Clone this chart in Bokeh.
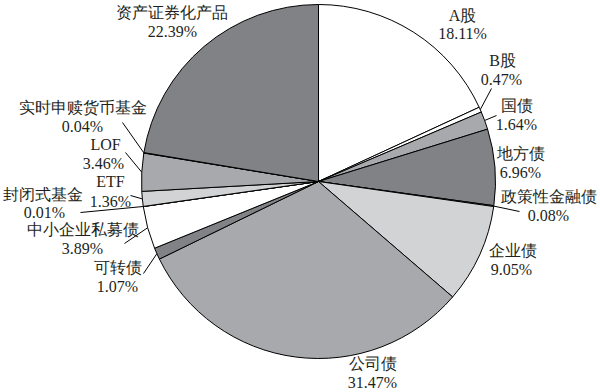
import numpy as np
from bokeh.plotting import figure
from bokeh.models import ColumnDataSource, Range1d
from bokeh.core.properties import value
from bokeh.embed import file_html
from bokeh.resources import INLINE

# ---- data ----
categories = ["A股", "B股", "国债", "地方债", "政策性金融债", "企业债", "公司债",
              "可转债", "中小企业私募债", "封闭式基金", "ETF", "LOF",
              "实时申赎货币基金", "资产证券化产品"]
shares = [18.11, 0.47, 1.64, 6.96, 0.08, 9.05, 31.47,
          1.07, 3.89, 0.01, 1.36, 3.46, 0.04, 22.39]
pct_labels = ["18.11%", "0.47%", "1.64%", "6.96%", "0.08%", "9.05%", "31.47%",
              "1.07%", "3.89%", "0.01%", "1.36%", "3.46%", "0.04%", "22.39%"]

# ---- styling / layout ----
W, H = 600, 392
CX, CY, R = 318, H - 181, 177
WHITE, LIGHT, MID, DARK = "#ffffff", "#d1d3d4", "#a7a9ac", "#808285"
colors = [WHITE, WHITE, MID, DARK, WHITE, LIGHT, MID,
          DARK, WHITE, LIGHT, LIGHT, MID, WHITE, DARK]
# label centres in screen pixels (name line, value line)
name_pos = [(462, 15), (502, 60), (516, 105), (520, 153), (548, 196), (512, 250), (372, 363),
            (117, 267), (82, 229), (42, 194), (110, 181), (105, 144), (82, 107), (171, 12)]
pct_pos = [(462, 33), (501, 79), (516, 124), (520, 172), (548, 215), (511, 269), (372, 382),
           (117, 286), (82, 248), (44, 212), (110, 201), (103, 163), (82, 126), (172, 31)]
# leader line outer ends (screen px); None = no leader
leader_end = [None, (491, 88), (496, 115), None, (519, 211), None, None,
              (143, 273), (124, 243), (80, 212), (130, 195), (125, 152), (122, 122), None]

FONT = value("Liberation Serif")

vals = np.array(shares)
frac = vals / vals.sum()
cum = np.concatenate([[0], np.cumsum(frac)])
start = np.pi / 2 - cum[:-1] * 2 * np.pi
end = np.pi / 2 - cum[1:] * 2 * np.pi
mid = (start + end) / 2

src = ColumnDataSource(dict(cat=categories, start=start, end=end, color=colors,
                            x=[CX] * len(categories), y=[CY] * len(categories)))

p = figure(width=W, height=H, x_range=Range1d(0, W), y_range=Range1d(0, H),
           x_axis_location=None, y_axis_location=None, toolbar_location=None,
           output_backend="svg", min_border=0)
p.grid.visible = False
p.outline_line_color = None
p.background_fill_color = "white"

p.wedge(x="x", y="y", radius=R, start_angle="start", end_angle="end",
        direction="clock", fill_color="color", line_color="black", line_width=1,
        source=src)

# leader lines
xs, ys = [], []
for i, e in enumerate(leader_end):
    if e is None:
        continue
    ax = CX + R * np.cos(mid[i])
    ay = CY + R * np.sin(mid[i])
    xs.append([ax, e[0]])
    ys.append([ay, H - e[1]])
p.multi_line(xs=xs, ys=ys, line_color="black", line_width=1)

tsrc = ColumnDataSource(dict(
    nx=[q[0] for q in name_pos], ny=[H - q[1] for q in name_pos], name=categories,
    px=[q[0] for q in pct_pos], py=[H - q[1] for q in pct_pos], pct=pct_labels))
p.text(x="nx", y="ny", text="name", source=tsrc, text_font=FONT, text_font_size="16px",
       text_align="center", text_baseline="middle", text_color="#231f20")
p.text(x="px", y="py", text="pct", source=tsrc, text_font=FONT, text_font_size="16px",
       text_align="center", text_baseline="middle", text_color="#231f20")

open("out.html", "w").write(file_html(p, INLINE))
